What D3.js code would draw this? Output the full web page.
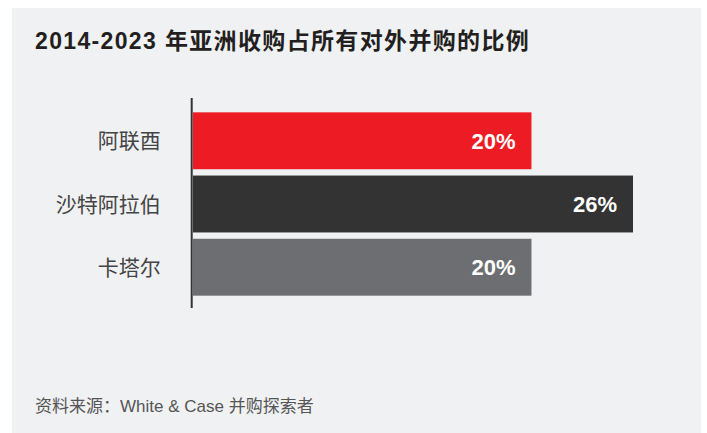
<!DOCTYPE html>
<html>
<head>
<meta charset="utf-8">
<script src="https://cdn.jsdelivr.net/npm/d3@7"></script>
<style>
  html, body { margin: 0; padding: 0; background: #ffffff; }
  svg { display: block; }
</style>
</head>
<body>
<div id="chart"></div>
<script>
// data
var countries = ["阿联酉", "沙特阿拉伯", "卡塔尔"]
var shares = [20, 26, 20]
var barColors = ["#ed1c24", "#333333", "#6d6e71"]
var title = "2014-2023 年亚洲收购占所有对外并购的比例"
var source = "资料来源：White & Case 并购探索者"

var width = 707, height = 433
var cjk = "'Liberation Sans', Arial, 'Noto Sans CJK SC', sans-serif"

var svg = d3.select("#chart")
    .append("svg")
    .attr("width", width)
    .attr("height", height)

// grey panel
svg.append("rect")
    .attr("x", 12)
    .attr("y", 8)
    .attr("width", 689)
    .attr("height", 425)
    .attr("fill", "#f0f1f3")

// title
svg.append("text")
    .attr("x", 35)
    .attr("y", 49)
    .attr("font-family", cjk)
    .attr("font-size", "23px")
    .attr("font-weight", "bold")
    .attr("letter-spacing", "1.35px")
    .attr("fill", "#231f20")
    .text(title)

var data = countries.map((c, i) => ({country: c, value: shares[i], color: barColors[i]}))

var x = d3.scaleLinear().domain([0, 26]).range([193, 633])
var y = d3.scaleBand().domain(countries).range([106, 302]).paddingInner(0.1).paddingOuter(0.1)

//bars
svg.append("g")
    .selectAll("rect")
    .data(data)
    .enter()
    .append("rect")
    .attr("x", x(0))
    .attr("y", d => y(d.country))
    .attr("width", d => x(d.value) - x(0))
    .attr("height", y.bandwidth())
    .attr("fill", d => d.color)

// value labels inside bars
svg.append("g")
    .selectAll("text")
    .data(data)
    .enter()
    .append("text")
    .attr("x", d => x(d.value) - 16)
    .attr("y", d => y(d.country) + y.bandwidth() / 2)
    .attr("dy", "0.36em")
    .attr("text-anchor", "end")
    .attr("font-family", cjk)
    .attr("font-size", "22px")
    .attr("font-weight", "bold")
    .attr("fill", "#ffffff")
    .text(d => d.value + "%")

// category axis, labels only
var yAxis = svg.append("g")
    .attr("transform", "translate(191.7,0)")
    .call(d3.axisLeft(y).tickSize(0).tickPadding(31))
yAxis.select(".domain").remove()
yAxis.selectAll("text")
    .attr("font-family", cjk)
    .attr("font-size", "21px")
    .attr("fill", "#444444")
    .attr("dy", "0.36em")

// vertical axis line
svg.append("line")
    .attr("x1", 191.7)
    .attr("x2", 191.7)
    .attr("y1", 98)
    .attr("y2", 308)
    .attr("stroke", "#333333")
    .attr("stroke-width", 2)

// source note
svg.append("text")
    .attr("x", 35)
    .attr("y", 412)
    .attr("font-family", cjk)
    .attr("font-size", "17px")
    .attr("fill", "#555555")
    .text(source)
</script>
</body>
</html>
